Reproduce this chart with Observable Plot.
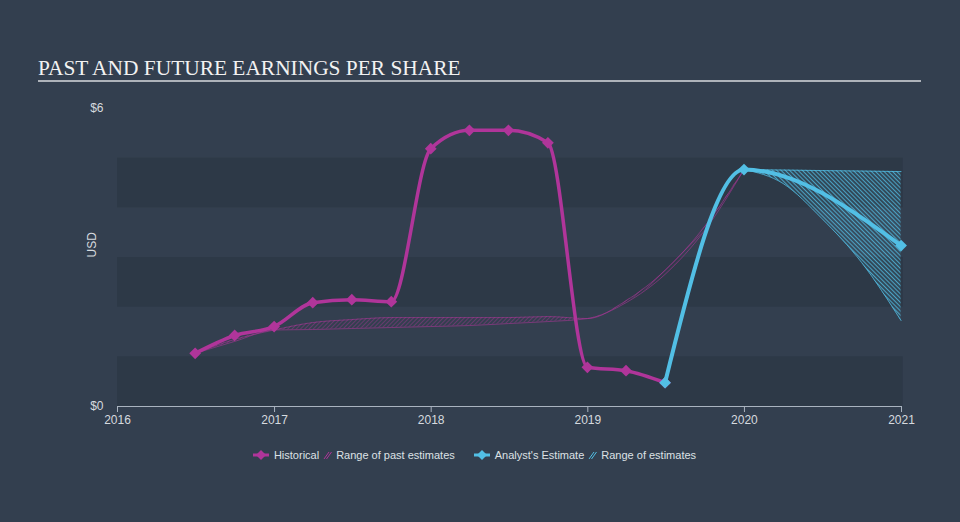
<!DOCTYPE html>
<html>
<head>
<meta charset="utf-8">
<script src="https://cdn.jsdelivr.net/npm/d3@7"></script>
<script src="https://cdn.jsdelivr.net/npm/@observablehq/plot@0.6"></script>
<style>
  html, body { margin: 0; padding: 0; }
  body { width: 960px; height: 522px; background: #333f4f; position: relative; overflow: hidden; font-family: "Liberation Sans", Arial, sans-serif; }
  #title { position: absolute; left: 38px; top: 54px; font-family: "Liberation Serif", "DejaVu Serif", serif; font-size: 21.4px; line-height: 28px; color: #f2f2f2; white-space: nowrap; }
  #rule { position: absolute; left: 38px; top: 80px; width: 883px; height: 2px; background: #aeb3ba; }
  #chart { position: absolute; left: 0; top: 90px; }
  #legend { position: absolute; left: 0; top: 449px; width: 960px; box-sizing: border-box; padding-right: 12px; display: flex; justify-content: center; align-items: center; font-size: 11px; color: #dde1e5; }
  .item { display: flex; align-items: center; }
  .item svg { display: block; }
</style>
</head>
<body>
<div id="title">PAST AND FUTURE EARNINGS PER SHARE</div>
<div id="rule"></div>
<div id="chart"></div>
<div id="legend">
  <div class="item" style="margin-right:4px">
    <svg width="18" height="12"><line x1="1" y1="6" x2="17" y2="6" stroke="#b0359a" stroke-width="3"/><path d="M9 1 L14 6 L9 11 L4 6 Z" fill="#b0359a"/></svg>
  </div>
  <div class="item" style="margin-right:4px">Historical</div>
  <div class="item" style="margin-right:4px">
    <svg width="9" height="12"><line x1="1" y1="10" x2="6" y2="3" stroke="#b0359a" stroke-width="1"/><line x1="3.5" y1="10" x2="8.5" y2="3" stroke="#b0359a" stroke-width="1"/></svg>
  </div>
  <div class="item" style="margin-right:18px">Range of past estimates</div>
  <div class="item" style="margin-right:4px">
    <svg width="18" height="12"><line x1="1" y1="6" x2="17" y2="6" stroke="#52bfe5" stroke-width="3"/><path d="M9 1 L14 6 L9 11 L4 6 Z" fill="#52bfe5"/></svg>
  </div>
  <div class="item" style="margin-right:4px">Analyst's Estimate</div>
  <div class="item" style="margin-right:4px">
    <svg width="9" height="12"><line x1="1" y1="10" x2="6" y2="3" stroke="#52bfe5" stroke-width="1"/><line x1="3.5" y1="10" x2="8.5" y2="3" stroke="#52bfe5" stroke-width="1"/></svg>
  </div>
  <div class="item">Range of estimates</div>
</div>
<script>
// ---- data ----
const histDates = ["2016-06-30","2016-09-30","2016-12-31","2017-03-31","2017-06-30","2017-09-30","2017-12-31","2018-03-31","2018-06-30","2018-09-30","2018-12-31","2019-03-31","2019-06-30"];
const histEPS   = [1.07, 1.43, 1.61, 2.09, 2.15, 2.11, 5.19, 5.56, 5.56, 5.31, 0.79, 0.72, 0.48];

const estDates = ["2019-06-30","2019-12-31","2020-12-31"];
const estEPS   = [0.48, 4.77, 3.24];

const pastRangeDates = ["2016-06-30","2016-09-30","2016-12-31","2017-03-31","2017-06-30","2017-09-30","2017-12-31","2018-03-31","2018-06-30","2018-09-30","2018-12-31","2019-03-31","2019-06-30","2019-09-30","2019-12-31"];
const pastLow  = [1.07, 1.31, 1.54, 1.55, 1.57, 1.59, 1.61, 1.63, 1.67, 1.71, 1.77, 2.09, 2.66, 3.54, 4.77];
const pastHigh = [1.07, 1.35, 1.54, 1.69, 1.75, 1.79, 1.79, 1.79, 1.79, 1.81, 1.77, 2.13, 2.74, 3.62, 4.77];

const futRangeDates = ["2019-12-31","2020-03-31","2020-06-30","2020-09-30","2020-12-31"];
const futLow  = [4.77, 4.49, 3.78, 2.90, 1.73];
const futHigh = [4.77, 4.76, 4.75, 4.74, 4.73];

const bandLo = [0, 2, 4];
const bandHi = [1, 3, 5];
const yTicks = [0, 6];
const xTickYears = ["2016-01-01","2017-01-01","2018-01-01","2019-01-01","2020-01-01","2021-01-01"];

// ---- tables ----
const P = s => new Date(s);
const hist = histDates.map((d,i) => ({date: P(d), eps: histEPS[i]}));
const est = estDates.map((d,i) => ({date: P(d), eps: estEPS[i]}));
const pastR = pastRangeDates.map((d,i) => ({date: P(d), low: pastLow[i], high: pastHigh[i]}));
const futR = futRangeDates.map((d,i) => ({date: P(d), low: futLow[i], high: futHigh[i]}));
const bands = bandLo.map((v,i) => ({lo: v, hi: bandHi[i]}));

const MAG = "#b0359a", BLUE = "#52bfe5";
const x0 = P("2016-01-01"), x1 = P("2021-01-05");

const plot = Plot.plot({
  width: 960,
  height: 350,
  marginLeft: 117,
  marginRight: 59,
  marginTop: 18,
  marginBottom: 34,
  style: {background: "transparent", color: "#d6dadf", fontSize: "12px", fontFamily: "'Liberation Sans', Arial, sans-serif", overflow: "visible"},
  x: {type: "utc", domain: [P("2016-01-01"), P("2021-01-01")]},
  y: {domain: [0, 6]},
  marks: [
    Plot.rect(bands, {x1: () => x0, x2: () => x1, y1: "lo", y2: "hi", fill: "#2d3947"}),
    Plot.areaY(pastR, {x: "date", y1: "low", y2: "high", fill: "url(#hatchPast)", curve: "monotone-x"}),
    Plot.lineY(pastR, {x: "date", y: "low", stroke: MAG, strokeWidth: 0.8, strokeOpacity: 0.7, curve: "monotone-x"}),
    Plot.lineY(pastR, {x: "date", y: "high", stroke: MAG, strokeWidth: 0.8, strokeOpacity: 0.7, curve: "monotone-x"}),
    Plot.areaY(futR, {x: "date", y1: "low", y2: "high", fill: "url(#hatchFut)", curve: "monotone-x"}),
    Plot.lineY(futR, {x: "date", y: "low", stroke: BLUE, strokeWidth: 0.9, strokeOpacity: 0.85, curve: "monotone-x"}),
    Plot.lineY(futR, {x: "date", y: "high", stroke: BLUE, strokeWidth: 0.9, strokeOpacity: 0.85, curve: "monotone-x"}),
    Plot.ruleY([0], {stroke: "#a9b3bf", strokeWidth: 1}),
    Plot.axisX({ticks: xTickYears.map(P), tickFormat: "%Y", tickSize: 6, tickPadding: 3, stroke: "#a9b3bf", fill: "#d6dadf", label: null}),
    Plot.axisY({ticks: yTicks, tickFormat: d => "$" + d, tickSize: 0, tickPadding: 14, label: null}),
    Plot.text(["USD"], {frameAnchor: "left", dx: -25, rotate: -90, fill: "#d6dadf", fontSize: 12}),
    Plot.line(hist, {x: "date", y: "eps", stroke: MAG, strokeWidth: 3.5, curve: "monotone-x"}),
    Plot.dot(hist, {x: "date", y: "eps", symbol: "diamond2", r: 5.3, fill: MAG, stroke: "none"}),
    Plot.line(est, {x: "date", y: "eps", stroke: BLUE, strokeWidth: 4, curve: "monotone-x"}),
    Plot.dot(est, {x: "date", y: "eps", symbol: "diamond2", r: 5.3, fill: BLUE, stroke: "none"})
  ]
});

d3.select(plot).insert("defs", ":first-child").html(`
  <pattern id="hatchPast" width="3" height="3" patternUnits="userSpaceOnUse" patternTransform="rotate(45)">
    <line x1="0" y1="0" x2="0" y2="3" stroke="${MAG}" stroke-width="1" stroke-opacity="0.8"/>
  </pattern>
  <pattern id="hatchFut" width="3" height="3" patternUnits="userSpaceOnUse" patternTransform="rotate(-45)">
    <rect width="3" height="3" fill="${BLUE}" fill-opacity="0.12"/>
    <line x1="0.5" y1="0" x2="0.5" y2="3" stroke="${BLUE}" stroke-width="1" stroke-opacity="0.75"/>
  </pattern>
`);

document.getElementById("chart").appendChild(plot);
</script>
</body>
</html>
